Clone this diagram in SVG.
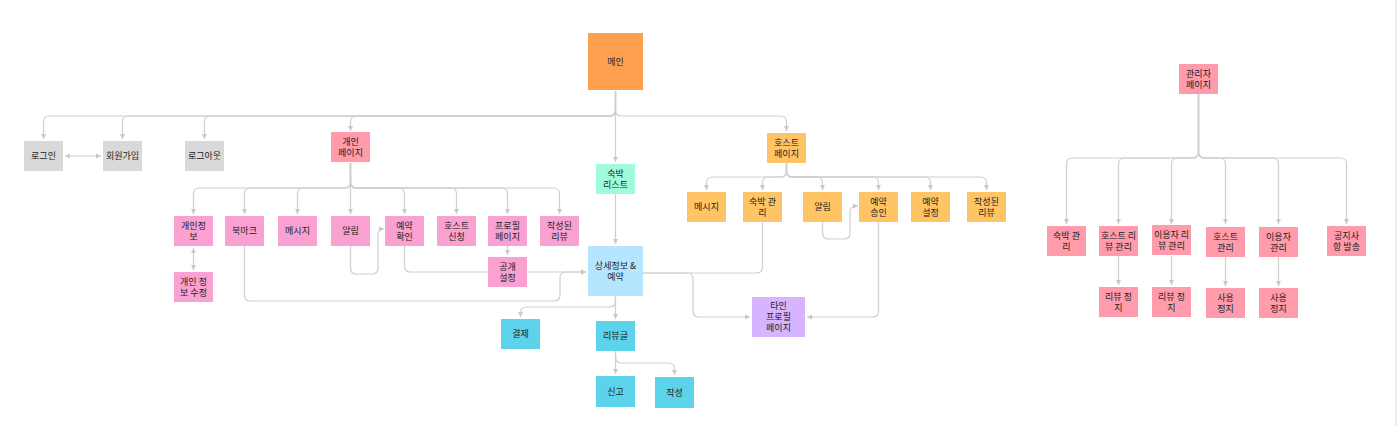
<svg xmlns="http://www.w3.org/2000/svg" width="1397" height="426" viewBox="0 0 1397 426">
<style>
text{font-family:"Noto Sans CJK KR","Noto Sans",sans-serif;font-size:9px;fill:#222;text-anchor:middle}
.c path{fill:none;stroke:#cfcfcf;stroke-width:1.2}
.gray{fill:#D9D9D9}.main{fill:#FF9F50}.pk{fill:#FF9BAB}.pl{fill:#F9A1D1}.ho{fill:#FFC466}
.mint{fill:#A0FBDA}.sky{fill:#B5E5FF}.cy{fill:#5CD3EA}.lav{fill:#D6B4FF}
</style>
<defs>
<marker id="a" markerUnits="userSpaceOnUse" markerWidth="6" markerHeight="6" refX="5" refY="3" orient="auto-start-reverse"><path d="M0 0.5L5 3L0 5.5z" fill="#c8c8c8"/></marker>
</defs>
<rect width="1397" height="426" fill="#fff"/>
<rect x="1395" y="0" width="2" height="426" fill="#ececec"/>
<g class="c">
<path d="M615.5 91V110Q615.5 116 609.5 116H49.5Q43.5 116 43.5 122V139" marker-end="url(#a)"/>
<path d="M615.5 91V110Q615.5 116 609.5 116H128.5Q122.5 116 122.5 122V139" marker-end="url(#a)"/>
<path d="M615.5 91V110Q615.5 116 609.5 116H210.5Q204.5 116 204.5 122V139" marker-end="url(#a)"/>
<path d="M615.5 91V110Q615.5 116 609.5 116H356.5Q350.5 116 350.5 122V131" marker-end="url(#a)"/>
<path d="M615.5 91V110Q615.5 116 621.5 116H780.5Q786.5 116 786.5 122V131" marker-end="url(#a)"/>
<path d="M615.5 91V162" marker-end="url(#a)"/>
<path d="M65 156H101" marker-start="url(#a)" marker-end="url(#a)"/>
<path d="M350.5 163V182Q350.5 188 344.5 188H199.5Q193.5 188 193.5 194V214" marker-end="url(#a)"/>
<path d="M350.5 163V182Q350.5 188 344.5 188H250.5Q244.5 188 244.5 194V214" marker-end="url(#a)"/>
<path d="M350.5 163V182Q350.5 188 344.5 188H303.5Q297.5 188 297.5 194V214" marker-end="url(#a)"/>
<path d="M350.5 163V214" marker-end="url(#a)"/>
<path d="M350.5 163V182Q350.5 188 356.5 188H398.5Q404.5 188 404.5 194V214" marker-end="url(#a)"/>
<path d="M350.5 163V182Q350.5 188 356.5 188H450.5Q456.5 188 456.5 194V214" marker-end="url(#a)"/>
<path d="M350.5 163V182Q350.5 188 356.5 188H501.5Q507.5 188 507.5 194V214" marker-end="url(#a)"/>
<path d="M350.5 163V182Q350.5 188 356.5 188H553.5Q559.5 188 559.5 194V214" marker-end="url(#a)"/>
<path d="M193.5 248V270" marker-start="url(#a)" marker-end="url(#a)"/>
<path d="M507.5 246V255" marker-end="url(#a)"/>
<path d="M350.5 246V268Q350.5 274 356.5 274H372Q378 274 378 268V235Q378 229 384 229" marker-end="url(#a)"/>
<path d="M404.5 246V266Q404.5 272 410.5 272H586" marker-end="url(#a)"/>
<path d="M244.5 246V295Q244.5 301 250.5 301H554Q560 301 560 295V278Q560 272 566 272H586" marker-end="url(#a)"/>
<path d="M615.5 194V244" marker-end="url(#a)"/>
<path d="M643 273H687Q693 273 693 279V311Q693 317 699 317H750" marker-end="url(#a)"/>
<path d="M762.5 222V267Q762.5 273 756.5 273H643"/>
<path d="M878.5 222V311Q878.5 317 872.5 317H807" marker-end="url(#a)"/>
<path d="M822.5 222V233Q822.5 239 828.5 239H844Q850 239 850 233V212Q850 206 856 206H858" marker-end="url(#a)"/>
<path d="M786.5 163V171Q786.5 177 780.5 177H712.5Q706.5 177 706.5 183V190" marker-end="url(#a)"/>
<path d="M786.5 163V171Q786.5 177 780.5 177H768.5Q762.5 177 762.5 183V190" marker-end="url(#a)"/>
<path d="M786.5 163V171Q786.5 177 792.5 177H816.5Q822.5 177 822.5 183V190" marker-end="url(#a)"/>
<path d="M786.5 163V171Q786.5 177 792.5 177H872.5Q878.5 177 878.5 183V190" marker-end="url(#a)"/>
<path d="M786.5 163V171Q786.5 177 792.5 177H924.5Q930.5 177 930.5 183V190" marker-end="url(#a)"/>
<path d="M786.5 163V171Q786.5 177 792.5 177H980.5Q986.5 177 986.5 183V190" marker-end="url(#a)"/>
<path d="M615.5 296V319" marker-end="url(#a)"/>
<path d="M615.5 296V301Q615.5 307 609.5 307H526.5Q520.5 307 520.5 313V317" marker-end="url(#a)"/>
<path d="M615.5 351V374" marker-end="url(#a)"/>
<path d="M615.5 351V357Q615.5 363 621.5 363H668.5Q674.5 363 674.5 369V375" marker-end="url(#a)"/>
<path d="M1198.5 94V152Q1198.5 158 1192.5 158H1072.5Q1066.5 158 1066.5 164V224" marker-end="url(#a)"/>
<path d="M1198.5 94V152Q1198.5 158 1192.5 158H1124.5Q1118.5 158 1118.5 164V224" marker-end="url(#a)"/>
<path d="M1198.5 94V152Q1198.5 158 1192.5 158H1177.5Q1171.5 158 1171.5 164V224" marker-end="url(#a)"/>
<path d="M1198.5 94V152Q1198.5 158 1204.5 158H1219.5Q1225.5 158 1225.5 164V224" marker-end="url(#a)"/>
<path d="M1198.5 94V152Q1198.5 158 1204.5 158H1272.5Q1278.5 158 1278.5 164V224" marker-end="url(#a)"/>
<path d="M1198.5 94V152Q1198.5 158 1204.5 158H1340.5Q1346.5 158 1346.5 164V224" marker-end="url(#a)"/>
<path d="M1118.5 256V285" marker-end="url(#a)"/>
<path d="M1171.5 256V285" marker-end="url(#a)"/>
<path d="M1225.5 257V286" marker-end="url(#a)"/>
<path d="M1278.5 257V286" marker-end="url(#a)"/>
</g>
<g id="n-main"><rect class="main" x="588" y="33" width="55" height="57"/><text x="615.5" y="65">메인</text></g>
<g id="n-login"><rect class="gray" x="24" y="141" width="39" height="30"/><text x="43.5" y="159">로그인</text></g>
<g id="n-signup"><rect class="gray" x="103" y="141" width="39" height="30"/><text x="122.5" y="159">회원가입</text></g>
<g id="n-logout"><rect class="gray" x="185" y="141" width="39" height="30"/><text x="204.5" y="159">로그아웃</text></g>
<g id="n-mypage"><rect class="pk" x="331" y="132" width="39" height="30"/><text x="350.5" y="144.7">개인</text><text x="350.5" y="155.7">페이지</text></g>
<g id="n-stay-list"><rect class="mint" x="596" y="164" width="39" height="30"/><text x="615.5" y="176.7">숙박</text><text x="615.5" y="187.7">리스트</text></g>
<g id="n-hostpage"><rect class="ho" x="767" y="133" width="39" height="30"/><text x="786.5" y="145.7">호스트</text><text x="786.5" y="156.7">페이지</text></g>
<g id="n-info"><rect class="pl" x="174" y="216" width="39" height="30"/><text x="193.5" y="228.7">개인정</text><text x="193.5" y="239.7">보</text></g>
<g id="n-bookmark"><rect class="pl" x="225" y="216" width="39" height="30"/><text x="244.5" y="234">북마크</text></g>
<g id="n-msg"><rect class="pl" x="278" y="216" width="39" height="30"/><text x="297.5" y="234">메시지</text></g>
<g id="n-alarm"><rect class="pl" x="331" y="216" width="39" height="30"/><text x="350.5" y="234">알림</text></g>
<g id="n-resv-check"><rect class="pl" x="385" y="216" width="39" height="30"/><text x="404.5" y="228.7">예약</text><text x="404.5" y="239.7">확인</text></g>
<g id="n-host-apply"><rect class="pl" x="437" y="216" width="39" height="30"/><text x="456.5" y="228.7">호스트</text><text x="456.5" y="239.7">신청</text></g>
<g id="n-profile"><rect class="pl" x="488" y="216" width="39" height="30"/><text x="507.5" y="228.7">프로필</text><text x="507.5" y="239.7">페이지</text></g>
<g id="n-my-review"><rect class="pl" x="540" y="216" width="39" height="30"/><text x="559.5" y="228.7">작성된</text><text x="559.5" y="239.7">리뷰</text></g>
<g id="n-info-edit"><rect class="pl" x="174" y="272" width="39" height="30"/><text x="193.5" y="284.7">개인 정</text><text x="193.5" y="295.7">보 수정</text></g>
<g id="n-public"><rect class="pl" x="488" y="257" width="39" height="30"/><text x="507.5" y="269.7">공개</text><text x="507.5" y="280.7">설정</text></g>
<g id="n-detail"><rect class="sky" x="588" y="246" width="55" height="50"/><text x="615.5" y="268.7">상세정보 &amp;</text><text x="615.5" y="279.7">예약</text></g>
<g id="n-pay"><rect class="cy" x="501" y="319" width="39" height="30"/><text x="520.5" y="337">결제</text></g>
<g id="n-reviews"><rect class="cy" x="596" y="321" width="39" height="30"/><text x="615.5" y="339">리뷰글</text></g>
<g id="n-report"><rect class="cy" x="596" y="376" width="39" height="31"/><text x="615.5" y="394.5">신고</text></g>
<g id="n-write"><rect class="cy" x="655" y="377" width="39" height="31"/><text x="674.5" y="395.5">작성</text></g>
<g id="n-h-msg"><rect class="ho" x="687" y="192" width="39" height="30"/><text x="706.5" y="210">메시지</text></g>
<g id="n-h-stay"><rect class="ho" x="743" y="192" width="39" height="30"/><text x="762.5" y="204.7">숙박 관</text><text x="762.5" y="215.7">리</text></g>
<g id="n-h-alarm"><rect class="ho" x="803" y="192" width="39" height="30"/><text x="822.5" y="210">알림</text></g>
<g id="n-h-approve"><rect class="ho" x="859" y="192" width="39" height="30"/><text x="878.5" y="204.7">예약</text><text x="878.5" y="215.7">승인</text></g>
<g id="n-h-setting"><rect class="ho" x="911" y="192" width="39" height="30"/><text x="930.5" y="204.7">예약</text><text x="930.5" y="215.7">설정</text></g>
<g id="n-h-review"><rect class="ho" x="967" y="192" width="39" height="30"/><text x="986.5" y="204.7">작성된</text><text x="986.5" y="215.7">리뷰</text></g>
<g id="n-other-profile"><rect class="lav" x="752" y="297" width="53" height="40"/><text x="778.5" y="309.2">타인</text><text x="778.5" y="320.2">프로필</text><text x="778.5" y="331.2">페이지</text></g>
<g id="n-admin"><rect class="pk" x="1179" y="64" width="39" height="30"/><text x="1198.5" y="76.7">관리자</text><text x="1198.5" y="87.7">페이지</text></g>
<g id="n-a-stay"><rect class="pk" x="1047" y="226" width="39" height="30"/><text x="1066.5" y="238.7">숙박 관</text><text x="1066.5" y="249.7">리</text></g>
<g id="n-a-hreview"><rect class="pk" x="1099" y="226" width="39" height="30"/><text x="1118.5" y="238.7">호스트 리</text><text x="1118.5" y="249.7">뷰 관리</text></g>
<g id="n-a-ureview"><rect class="pk" x="1152" y="225" width="39" height="30"/><text x="1171.5" y="237.7">이용자 리</text><text x="1171.5" y="248.7">뷰 관리</text></g>
<g id="n-a-host"><rect class="pk" x="1206" y="227" width="39" height="30"/><text x="1225.5" y="239.7">호스트</text><text x="1225.5" y="250.7">관리</text></g>
<g id="n-a-user"><rect class="pk" x="1259" y="227" width="39" height="30"/><text x="1278.5" y="239.7">이용자</text><text x="1278.5" y="250.7">관리</text></g>
<g id="n-a-notice"><rect class="pk" x="1327" y="226" width="39" height="30"/><text x="1346.5" y="238.7">공지사</text><text x="1346.5" y="249.7">항 발송</text></g>
<g id="n-a-hstop"><rect class="pk" x="1099" y="287" width="39" height="30"/><text x="1118.5" y="299.7">리뷰 정</text><text x="1118.5" y="310.7">지</text></g>
<g id="n-a-ustop"><rect class="pk" x="1152" y="287" width="39" height="30"/><text x="1171.5" y="299.7">리뷰 정</text><text x="1171.5" y="310.7">지</text></g>
<g id="n-a-hban"><rect class="pk" x="1206" y="288" width="39" height="30"/><text x="1225.5" y="300.7">사용</text><text x="1225.5" y="311.7">정지</text></g>
<g id="n-a-uban"><rect class="pk" x="1259" y="288" width="39" height="30"/><text x="1278.5" y="300.7">사용</text><text x="1278.5" y="311.7">정지</text></g>
</svg>
